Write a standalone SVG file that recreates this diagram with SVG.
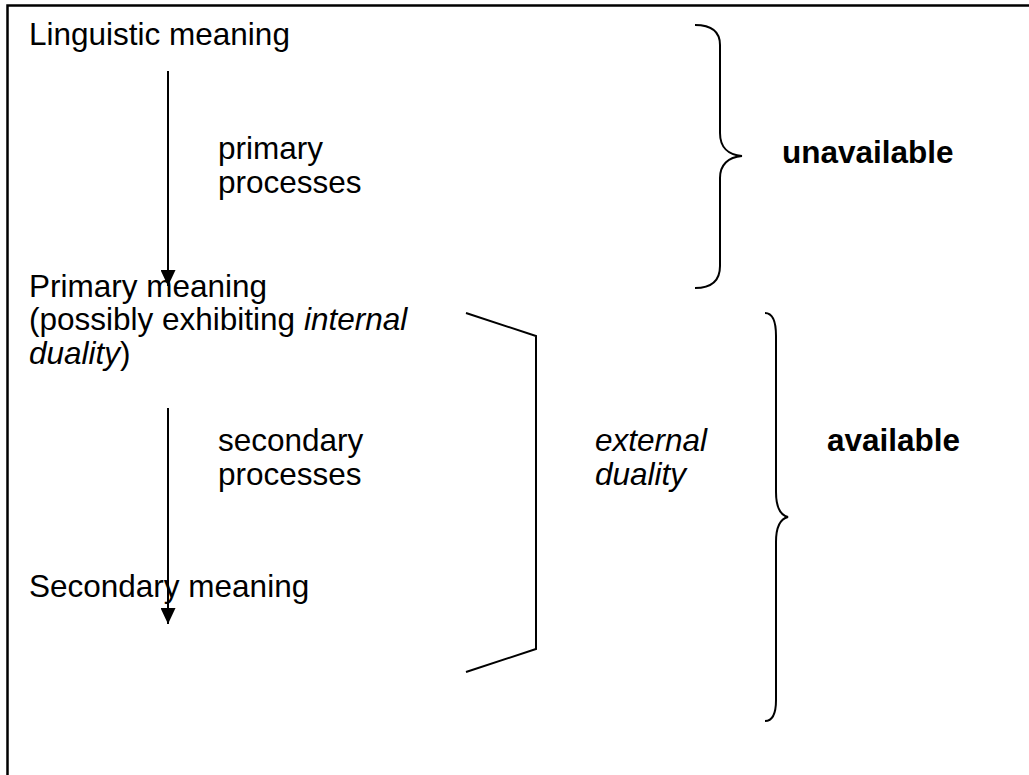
<svg xmlns="http://www.w3.org/2000/svg" width="1029" height="775" viewBox="0 0 1029 775">
<style>
text{font-family:"Liberation Sans",Arial,sans-serif;font-size:31.5px;fill:#000}
.b{font-weight:bold}
.i{font-style:italic}
.ln{stroke:#000;stroke-width:2;fill:none}
.fr{stroke:#000;stroke-width:2.5;fill:none}
</style>
<defs>
<marker id="ah" viewBox="0 0 16 15" refX="16" refY="7.5" markerWidth="16" markerHeight="15" markerUnits="userSpaceOnUse" orient="auto">
<path d="M0,0 L16,7.5 L0,15 Z" fill="#000"/>
</marker>
</defs>
<rect width="1029" height="775" fill="#fff"/>
<g id="frame">
<path class="fr" d="M7.5,775 L7.5,5.5 L1029,5.5"/>
</g>
<g id="connectors">
<line class="ln" x1="168" y1="71" x2="168" y2="286" marker-end="url(#ah)"/>
<line class="ln" x1="168" y1="408" x2="168" y2="624" marker-end="url(#ah)"/>
</g>
<g id="linguistic"><text x="29" y="45">Linguistic meaning</text></g>
<g id="primary-processes"><text x="218" y="159">primary</text><text x="218" y="193">processes</text></g>
<g id="primary-meaning">
<text x="29" y="297">Primary meaning</text>
<text x="29" y="330">(possibly exhibiting <tspan class="i">internal</tspan></text>
<text x="29" y="364"><tspan class="i">duality</tspan>)</text>
</g>
<g id="secondary-processes"><text x="218" y="451">secondary</text><text x="218" y="485">processes</text></g>
<g id="secondary-meaning"><text x="29" y="597">Secondary meaning</text></g>
<g id="unavailable">
<path class="ln" d="M695,25 C712,25 720,32 720,45 L720,133 C720,147 728,155 742,156 C728,157 720,165 720,178 L720,266 C720,280 712,288 695,288"/>
<text class="b" x="782" y="163">unavailable</text>
</g>
<g id="external-duality">
<path class="ln" d="M466,313 L536,336 L536,649 L466,672"/>
<text class="i" x="595" y="451">external</text>
<text class="i" x="595" y="485">duality</text>
</g>
<g id="available">
<path class="ln" d="M765,313 C773,313 776,322 776,336 L776,492 C776,507 780,515 788,517 C780,519 776,527 776,542 L776,700 C776,713 773,721 765,721"/>
<text class="b" x="827" y="451">available</text>
</g>
</svg>
